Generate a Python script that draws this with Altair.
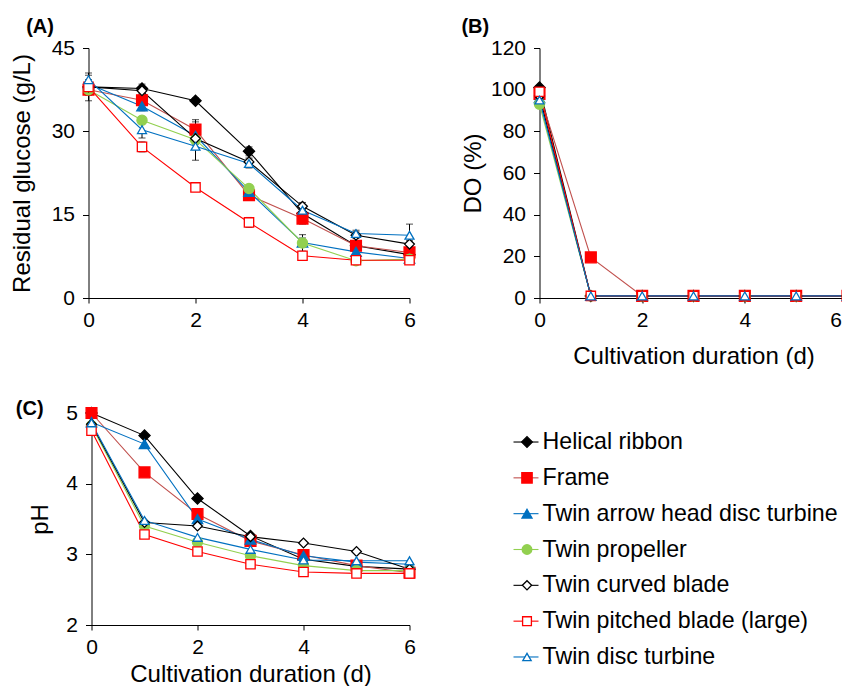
import altair as alt
import pandas as pd

FONT = "Liberation Sans"

days = [0, 1, 2, 3, 4, 5, 6]
series = [
    "Helical ribbon",
    "Frame",
    "Twin arrow head disc turbine",
    "Twin propeller",
    "Twin curved blade",
    "Twin pitched blade (large)",
    "Twin disc turbine",
]
shapes = ["diamond", "square", "triangle-up", "circle", "diamond", "square", "triangle-up"]
marker_stroke = ["#000000", "#FF0000", "#0070C0", "#92D050", "#000000", "#FF0000", "#0070C0"]
marker_fill = ["#000000", "#FF0000", "#0070C0", "#92D050", "#FFFFFF", "#FFFFFF", "#FFFFFF"]
line_colors = ["#000000", "#C0504D", "#0070C0", "#92D050", "#000000", "#FF0000", "#0070C0"]
marker_sizes = [125, 80, 100, 100, 125, 80, 100]
legend_marker_sizes = [115, 70, 90, 90, 115, 70, 90]

glucose = {
    "Helical ribbon": [38.0, 37.7, 35.5, 26.4, 15.2, 9.4, 7.8],
    "Frame": [37.5, 35.6, 30.3, 18.5, 14.3, 9.4, 8.2],
    "Twin arrow head disc turbine": [38.5, 34.5, 29.2, 19.1, 10.0, 8.3, 7.1],
    "Twin propeller": [37.5, 32.0, 28.5, 19.7, 9.9, 6.7, 7.0],
    "Twin curved blade": [38.0, 37.3, 28.7, 24.5, 16.5, 11.3, 9.7],
    "Twin pitched blade (large)": [38.0, 27.2, 19.9, 13.6, 7.6, 6.8, 6.8],
    "Twin disc turbine": [39.3, 30.3, 27.3, 24.2, 15.8, 11.6, 11.3],
}
glucose_err = {
    "Helical ribbon": [1.0, 0.8, 0.5, 0.8, 0.8, 0.6, 0.6],
    "Frame": [1.0, 1.3, 1.8, 0.6, 1.0, 0.8, 0.5],
    "Twin arrow head disc turbine": [0.8, 0.8, 2.5, 0.6, 0.8, 0.6, 0.5],
    "Twin propeller": [0.6, 0.6, 0.8, 0.6, 1.5, 0.4, 0.4],
    "Twin curved blade": [2.5, 0.7, 0.7, 0.7, 0.7, 0.6, 0.6],
    "Twin pitched blade (large)": [0.8, 0.9, 0.5, 0.9, 0.8, 0.4, 0.4],
    "Twin disc turbine": [0.8, 1.5, 2.5, 0.8, 0.6, 0.6, 2.0],
}
dissolved_oxygen = {
    "Helical ribbon": [101, 1, 1, 1, 1, 1, 1],
    "Frame": [98, 19.5, 1, 1, 1, 1, 1],
    "Twin arrow head disc turbine": [96, 1, 1, 1, 1, 1, 1],
    "Twin propeller": [93, 1, 1, 1, 1, 1, 1],
    "Twin curved blade": [97, 1, 1, 1, 1, 1, 1],
    "Twin pitched blade (large)": [99, 1, 1, 1, 1, 1, 1],
    "Twin disc turbine": [95, 1, 1, 1, 1, 1, 1],
}
ph = {
    "Helical ribbon": [5.0, 4.68, 3.79, 3.26, 2.93, 2.83, 2.79],
    "Frame": [5.0, 4.16, 3.57, 3.19, 2.99, 2.84, 2.74],
    "Twin arrow head disc turbine": [4.87, 4.56, 3.50, 3.21, 2.98, 2.89, 2.86],
    "Twin propeller": [4.82, 3.40, 3.17, 2.98, 2.84, 2.77, 2.77],
    "Twin curved blade": [4.84, 3.45, 3.40, 3.25, 3.16, 3.04, 2.79],
    "Twin pitched blade (large)": [4.75, 3.28, 3.04, 2.86, 2.75, 2.73, 2.73],
    "Twin disc turbine": [4.86, 3.48, 3.24, 3.07, 2.92, 2.91, 2.91],
}


def long_df(values, errs=None):
    rows = []
    for i, s in enumerate(series):
        for j, d in enumerate(days):
            v = values[s][j]
            row = {"series": s, "order": i, "day": d, "value": v}
            if errs is not None:
                row["lo"] = v - errs[s][j]
                row["hi"] = v + errs[s][j]
            rows.append(row)
    return pd.DataFrame(rows)


color_line = alt.Color("series:N", scale=alt.Scale(domain=series, range=line_colors), legend=None)
shape_enc = alt.Shape("series:N", scale=alt.Scale(domain=series, range=shapes), legend=None)
fill_enc = alt.Fill("series:N", scale=alt.Scale(domain=series, range=marker_fill), legend=None)
stroke_enc = alt.Stroke("series:N", scale=alt.Scale(domain=series, range=marker_stroke), legend=None)
size_enc = alt.Size("series:N", scale=alt.Scale(domain=series, range=marker_sizes), legend=None)


def panel(df, ydomain, yvals, ytitle, w, h, label, xtitle=None, err=False,
          ytitle_pad=10, ylabel_pad=8, xtitle_pad=8, xrange=None, yoffset=0, last_right=False,
          title_dx=0, title_dy=0, title_offset=0):
    xscale = alt.Scale(domain=[0, 6], nice=False)
    if xrange is not None:
        xscale = alt.Scale(domain=[0, 6], nice=False, range=xrange)
    xaxis_kwargs = dict(values=[0, 2, 4, 6], format="d", tickSize=5, labelPadding=6,
                        titlePadding=xtitle_pad, labelFlush=False)
    xaxis_kwargs["title"] = xtitle
    if last_right:
        xaxis_kwargs["labelAlign"] = {"condition": {"test": "datum.value == 6", "value": "right"}, "value": "center"}
        xaxis_kwargs["labelOffset"] = {"condition": {"test": "datum.value == 6", "value": -6}, "value": 0}
    x = alt.X("day:Q", scale=xscale, axis=alt.Axis(**xaxis_kwargs))
    y = alt.Y("value:Q", scale=alt.Scale(domain=ydomain, nice=False),
              axis=alt.Axis(values=yvals, title=ytitle, tickSize=6, labelPadding=ylabel_pad,
                            titlePadding=ytitle_pad, offset=yoffset))
    base = alt.Chart(df)
    layers = []
    if err:
        layers.append(base.mark_rule(color="black", strokeWidth=1).encode(
            x=x, y=alt.Y("lo:Q"), y2="hi:Q"))
        layers.append(base.mark_tick(color="black", orient="horizontal", size=7, thickness=1).encode(
            x=x, y=alt.Y("lo:Q")))
        layers.append(base.mark_tick(color="black", orient="horizontal", size=7, thickness=1).encode(
            x=x, y=alt.Y("hi:Q")))
    layers.append(base.mark_line(strokeWidth=1.1).encode(
        x=x, y=y, color=color_line, detail="series:N", order="day:Q"))
    layers.append(base.mark_point(filled=True, opacity=1, strokeWidth=1.3).encode(
        x=x, y=y, shape=shape_enc, fill=fill_enc, stroke=stroke_enc, size=size_enc))
    return alt.layer(*layers).properties(
        width=w, height=h,
        title=alt.TitleParams(label, anchor="start", dx=title_dx, dy=title_dy, offset=title_offset,
                              fontSize=20, fontWeight="bold", font=FONT, color="black"),
    )


panel_a = panel(long_df(glucose, glucose_err), [0, 45], [0, 15, 30, 45],
                "Residual glucose (g/L)", 321, 250, "(A)", err=True,
                ytitle_pad=17, ylabel_pad=8, title_dx=16)
panel_b = panel(long_df(dissolved_oxygen), [0, 120], [0, 20, 40, 60, 80, 100, 120],
                "DO (%)", 308, 250, "(B)", xtitle="Cultivation duration (d)",
                ytitle_pad=5, ylabel_pad=8, xtitle_pad=14, last_right=True)
panel_c = panel(long_df(ph), [2, 5], [2, 3, 4, 5], "pH", 321, 212, "(C)",
                xtitle="Cultivation duration (d)", xrange=[3, 321], yoffset=-3,
                ytitle_pad=13, ylabel_pad=8, xtitle_pad=5, title_dx=-13, title_dy=17)

leg_df = pd.DataFrame({"series": series})
leg_y = alt.Y("series:N", sort=series, scale=alt.Scale(domain=series, type="point", padding=0.81), axis=None)
leg_size = alt.Size("series:N", scale=alt.Scale(domain=series, range=legend_marker_sizes), legend=None)
legend_chart = alt.layer(
    alt.Chart(leg_df).mark_rule(strokeWidth=1.1).encode(
        y=leg_y, x=alt.value(-26), x2=alt.value(-1), color=color_line),
    alt.Chart(leg_df).mark_point(filled=True, opacity=1, strokeWidth=1.3).encode(
        y=leg_y, x=alt.value(-12.5), shape=shape_enc, fill=fill_enc, stroke=stroke_enc, size=leg_size),
    alt.Chart(leg_df).mark_text(align="left", baseline="middle", font=FONT, fontSize=23.2, color="black").encode(
        y=leg_y, x=alt.value(3), text="series:N"),
).properties(width=290, height=273)

chart = alt.concat(
    panel_a, panel_b, panel_c, legend_chart,
    columns=2, spacing={"row": 115, "column": 130}, bounds="flush",
).resolve_scale(size="independent").properties(
    padding={"left": 1.5, "top": 9, "right": -15, "bottom": 0}
).configure_view(stroke=None).configure_axis(
    grid=False,
    domainColor="black", tickColor="black", labelColor="black", titleColor="black",
    domainWidth=1, tickWidth=1,
    labelFont=FONT, titleFont=FONT, labelFontSize=21, titleFontSize=24, titleFontWeight="normal",
)

chart.save("out.html", embed_options={"renderer": "svg", "actions": False})
